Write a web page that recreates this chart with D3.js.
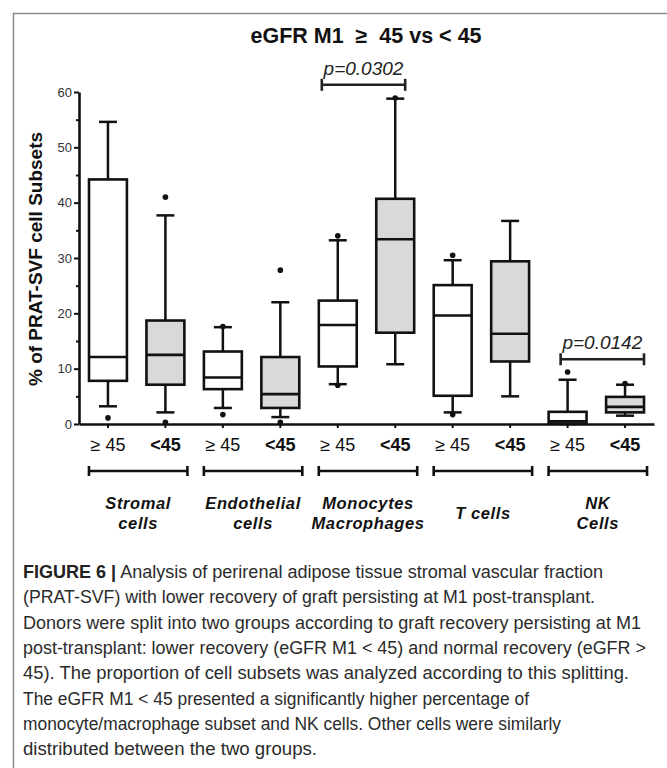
<!DOCTYPE html>
<html>
<head>
<meta charset="utf-8">
<script src="https://cdn.jsdelivr.net/npm/d3@7/dist/d3.min.js"></script>
<style>
  html, body { margin: 0; padding: 0; background: #fff; }
  svg { display: block; }
</style>
</head>
<body>
<svg id="chart" width="667" height="768"></svg>
<script>
// ---------- data ----------
const titleText = "eGFR M1\u00a0\u00a0\u2265\u00a0\u00a045 vs < 45";
const yLabel = "% of PRAT-SVF cell Subsets";
const categories = ["Stromal cells", "Endothelial cells", "Monocytes Macrophages", "T cells", "NK Cells"];
const categoryLines = [["Stromal", "cells"], ["Endothelial", "cells"], ["Monocytes", "Macrophages"], ["T cells"], ["NK", "Cells"]];
const groups = ["\u2265 45", "<45"];
// one entry per box, in order: cat0-g0, cat0-g1, cat1-g0, ...
const whiskerLow  = [3.2, 2.1, 2.9, 1.25, 7.2, 10.8, 2.1, 5.0, 0.0, 1.5];
const q1          = [7.8, 7.1, 6.3, 2.9, 10.4, 16.5, 5.1, 11.3, 0.1, 2.1];
const median      = [12.1, 12.5, 8.4, 5.4, 17.9, 33.4, 19.6, 16.3, 0.5, 3.1];
const q3          = [44.2, 18.7, 13.1, 12.1, 22.3, 40.7, 25.1, 29.4, 2.2, 4.9];
const whiskerHigh = [54.6, 37.7, 17.5, 22.0, 33.2, 58.8, 29.6, 36.7, 8.0, 7.1];
const outliers    = [[1.1], [41.0, 0.3], [17.6, 1.7], [27.8, 0.3], [34.0, 7.0], [58.9], [30.5, 1.7], [], [9.4], [7.3]];
const yTicks = [0, 10, 20, 30, 40, 50, 60];
const yMinorTicks = [5, 15, 25, 35, 45, 55];
const pCategory = [2, 4];
const pText = ["p=0.0302", "p=0.0142"];
const pLevel = [61.3, 11.7];
const captionBold = "FIGURE 6 |";
const captionLines = [
  " Analysis of perirenal adipose tissue stromal vascular fraction",
  "(PRAT-SVF) with lower recovery of graft persisting at M1 post-transplant.",
  "Donors were split into two groups according to graft recovery persisting at M1",
  "post-transplant: lower recovery (eGFR M1 < 45) and normal recovery (eGFR >",
  "45). The proportion of cell subsets was analyzed according to this splitting.",
  "The eGFR M1 < 45 presented a significantly higher percentage of",
  "monocyte/macrophage subset and NK cells. Other cells were similarly",
  "distributed between the two groups."
];
const captionWidths = [580, 572, 618, 623, 606, 506, 538, 294];

// ---------- layout ----------
(function () {
const svg = d3.select("#chart");
const font = "'Liberation Sans', Arial, sans-serif";
const pLeft = 79, pRight = 654, pTop = 92, pBottom = 424;
// bracket insets (px) from the outer edges of the two boxes: [left, right]
const pInset = [[3, 9], [12, 0]];

// frame
svg.append("path")
  .attr("d", `M13.5,768 V13.5 H667`)
  .attr("fill", "none").attr("stroke", "#8a8a8a").attr("stroke-width", 1.5);

// title
svg.append("text")
  .attr("x", 366).attr("y", 43)
  .attr("text-anchor", "middle")
  .attr("font-family", font).attr("font-weight", "bold").attr("font-size", 21.5)
  .attr("fill", "#111")
  .text(titleText);

const keys = d3.range(categories.length * groups.length).map(String);
const x = d3.scaleBand().domain(keys).range([pLeft, pRight]).paddingInner(0.34).paddingOuter(0.174);
const y = d3.scaleLinear().domain([0, 60]).range([pBottom, pTop]);
const bw = x.bandwidth();
const cx = i => x(String(i)) + bw / 2;

// y axis
const gy = svg.append("g").attr("transform", `translate(${pLeft},0)`);
gy.call(d3.axisLeft(y).tickValues(yTicks).tickSize(5).tickSizeOuter(0).tickPadding(2));
gy.select(".domain").attr("stroke-width", 2.6).attr("stroke", "#111");
gy.selectAll(".tick line").attr("stroke-width", 2).attr("stroke", "#111");
gy.selectAll(".tick text").attr("font-family", font).attr("font-size", 13).attr("fill", "#333");
const gyMinor = svg.append("g").attr("transform", `translate(${pLeft},0)`);
gyMinor.call(d3.axisLeft(y).tickValues(yMinorTicks).tickSize(3).tickFormat(""));
gyMinor.select(".domain").remove();
gyMinor.selectAll(".tick line").attr("stroke-width", 2).attr("stroke", "#111");

// y label
svg.append("text")
  .attr("transform", `translate(42,${(pTop + pBottom) / 2 + 1}) rotate(-90)`)
  .attr("text-anchor", "middle")
  .attr("font-family", font).attr("font-weight", "bold").attr("font-size", 19)
  .attr("fill", "#111")
  .text(yLabel);

// x axis
const gx = svg.append("g").attr("transform", `translate(0,${pBottom})`);
gx.call(d3.axisBottom(x).tickSize(4).tickSizeOuter(0).tickPadding(10)
  .tickFormat(d => groups[(+d) % groups.length]));
gx.select(".domain").attr("stroke-width", 2.6).attr("stroke", "#111");
gx.selectAll(".tick line").attr("stroke-width", 2).attr("stroke", "#111");
gx.selectAll(".tick text")
  .attr("font-family", font).attr("font-size", 18).attr("fill", "#111")
  .attr("font-weight", d => (+d) % 2 === 1 ? "bold" : "normal");

// boxes
const boxes = svg.append("g");
keys.forEach((k, i) => {
  const g = boxes.append("g");
  const c = cx(i);
  const cap = 9;
  g.append("line").attr("x1", c).attr("x2", c).attr("y1", y(whiskerHigh[i])).attr("y2", y(q3[i]))
    .attr("stroke", "#111").attr("stroke-width", 2.5);
  g.append("line").attr("x1", c).attr("x2", c).attr("y1", y(q1[i])).attr("y2", y(whiskerLow[i]))
    .attr("stroke", "#111").attr("stroke-width", 2.5);
  g.append("line").attr("x1", c - cap).attr("x2", c + cap).attr("y1", y(whiskerHigh[i])).attr("y2", y(whiskerHigh[i]))
    .attr("stroke", "#111").attr("stroke-width", 2.5);
  g.append("line").attr("x1", c - cap).attr("x2", c + cap).attr("y1", y(whiskerLow[i])).attr("y2", y(whiskerLow[i]))
    .attr("stroke", "#111").attr("stroke-width", 2.5);
  g.append("rect").attr("x", x(k)).attr("width", bw)
    .attr("y", y(q3[i])).attr("height", y(q1[i]) - y(q3[i]))
    .attr("fill", i % 2 === 1 ? "#d9d9d9" : "#fff")
    .attr("stroke", "#111").attr("stroke-width", 2.6);
  g.append("line").attr("x1", x(k)).attr("x2", x(k) + bw).attr("y1", y(median[i])).attr("y2", y(median[i]))
    .attr("stroke", "#111").attr("stroke-width", 2.6);
  outliers[i].forEach(v => {
    g.append("circle").attr("cx", c).attr("cy", y(v)).attr("r", 2.8).attr("fill", "#111");
  });
});

// p-value brackets
pCategory.forEach((ci, j) => {
  const x1 = x(String(ci * 2)) + pInset[j][0], x2 = x(String(ci * 2 + 1)) + bw - pInset[j][1];
  const yy = y(pLevel[j]);
  const g = svg.append("g").attr("stroke", "#222").attr("stroke-width", 2.6);
  g.append("line").attr("x1", x1).attr("x2", x2).attr("y1", yy).attr("y2", yy);
  g.append("line").attr("x1", x1).attr("x2", x1).attr("y1", yy - 6).attr("y2", yy + 6);
  g.append("line").attr("x1", x2).attr("x2", x2).attr("y1", yy - 6).attr("y2", yy + 6);
  svg.append("text").attr("x", (x1 + x2) / 2).attr("y", yy - 10)
    .attr("text-anchor", "middle")
    .attr("font-family", font).attr("font-style", "italic").attr("font-size", 19)
    .attr("fill", "#222")
    .text(pText[j]);
});

// category brackets and names
categories.forEach((cat, ci) => {
  const x1 = cx(ci * 2) - 19, x2 = cx(ci * 2 + 1) + 22;
  const yy = 471;
  const g = svg.append("g").attr("stroke", "#111").attr("stroke-width", 2.6);
  g.append("line").attr("x1", x1).attr("x2", x2).attr("y1", yy).attr("y2", yy);
  g.append("line").attr("x1", x1).attr("x2", x1).attr("y1", yy - 5).attr("y2", yy + 5);
  g.append("line").attr("x1", x2).attr("x2", x2).attr("y1", yy - 5).attr("y2", yy + 5);
  const lines = categoryLines[ci];
  const mid = (x1 + x2) / 2;
  const base = lines.length === 1 ? 519 : 509;
  const t = svg.append("text")
    .attr("text-anchor", "middle")
    .attr("font-family", font).attr("font-weight", "bold").attr("font-style", "italic")
    .attr("font-size", 16.5).attr("letter-spacing", 0.6).attr("fill", "#111");
  lines.forEach((ln, li) => {
    t.append("tspan").attr("x", mid).attr("y", base + li * 20).text(ln);
  });
});

// caption
const capFont = "'Liberation Sans Narrow', 'Liberation Sans', Arial, sans-serif";
captionLines.forEach((ln, i) => {
  const yy = 578 + i * 25.3;
  const t = svg.append("text")
    .attr("x", 23).attr("y", yy)
    .attr("font-family", capFont).attr("font-size", 17.5).attr("fill", "#2b2b2b")
    .attr("textLength", captionWidths[i]).attr("lengthAdjust", "spacingAndGlyphs");
  if (i === 0) {
    t.append("tspan").attr("font-weight", "bold").attr("fill", "#222").text(captionBold);
  }
  t.append("tspan").text(ln);
});
})();
</script>
</body>
</html>
